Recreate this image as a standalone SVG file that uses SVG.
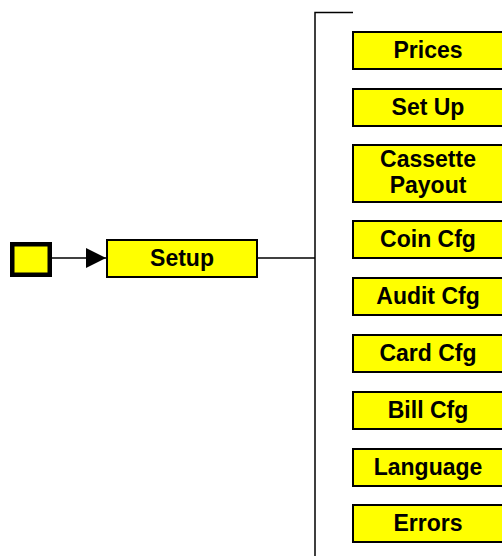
<svg xmlns="http://www.w3.org/2000/svg" width="502" height="556" viewBox="0 0 502 556">
  <style>
    .box { fill: #ffff00; stroke: #000; stroke-width: 2; }
    .lbl { font-family: "Liberation Sans", Arial, sans-serif; font-weight: bold; font-size: 23px; fill: #000; text-anchor: middle; }
    .wire { fill: none; stroke: #000; stroke-width: 1.5; }
  </style>
  <defs>
    <marker id="arrow" viewBox="0 0 20 20" refX="20" refY="10" markerWidth="20" markerHeight="20" markerUnits="userSpaceOnUse" orient="auto">
      <path d="M0,0 L20,10 L0,20 Z" fill="#000"/>
    </marker>
  </defs>
  <rect width="502" height="556" fill="#fff"/>

  <g id="connectors">
    <line class="wire" x1="52" y1="258" x2="106" y2="258" marker-end="url(#arrow)"/>
    <line class="wire" x1="257" y1="258" x2="315" y2="258"/>
    <polyline class="wire" points="353,12.5 315,12.5 315,556"/>
  </g>

  <g id="start">
    <rect x="12.25" y="244.25" width="37.5" height="30.5" fill="#ffff00" stroke="#000" stroke-width="4.5"/>
  </g>

  <g id="setup">
    <rect class="box" x="107" y="240" width="150" height="37"/>
    <text class="lbl" x="182" y="266">Setup</text>
  </g>

  <g id="prices">
    <rect class="box" x="353" y="32" width="152" height="37"/>
    <text class="lbl" x="428" y="58">Prices</text>
  </g>
  <g id="set-up">
    <rect class="box" x="353" y="89" width="152" height="37"/>
    <text class="lbl" x="428" y="115">Set Up</text>
  </g>
  <g id="cassette-payout">
    <rect class="box" x="353" y="145" width="152" height="57"/>
    <text class="lbl" x="428" y="167">Cassette</text>
    <text class="lbl" x="428" y="193">Payout</text>
  </g>
  <g id="coin-cfg">
    <rect class="box" x="353" y="221" width="152" height="37"/>
    <text class="lbl" x="428" y="247">Coin Cfg</text>
  </g>
  <g id="audit-cfg">
    <rect class="box" x="353" y="278" width="152" height="37"/>
    <text class="lbl" x="428" y="304">Audit Cfg</text>
  </g>
  <g id="card-cfg">
    <rect class="box" x="353" y="335" width="152" height="37"/>
    <text class="lbl" x="428" y="361">Card Cfg</text>
  </g>
  <g id="bill-cfg">
    <rect class="box" x="353" y="392" width="152" height="37"/>
    <text class="lbl" x="428" y="418">Bill Cfg</text>
  </g>
  <g id="language">
    <rect class="box" x="353" y="449" width="152" height="37"/>
    <text class="lbl" x="428" y="475">Language</text>
  </g>
  <g id="errors">
    <rect class="box" x="353" y="505" width="152" height="37"/>
    <text class="lbl" x="428" y="531">Errors</text>
  </g>
</svg>
